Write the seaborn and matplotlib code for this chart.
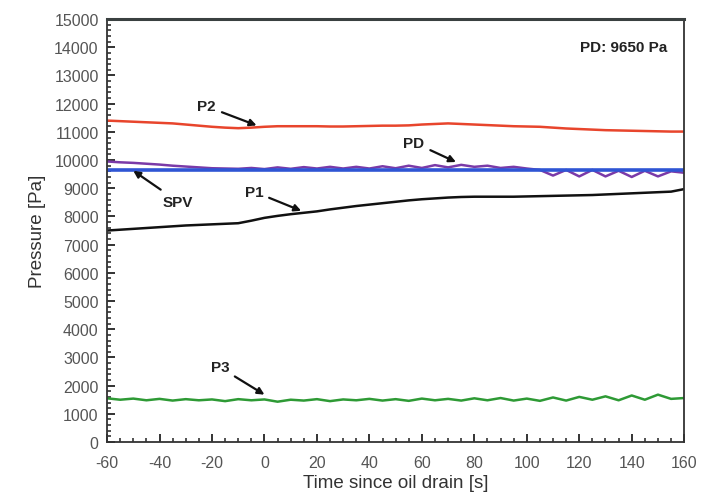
import numpy as np
import pandas as pd
import matplotlib
matplotlib.use("Agg")
import matplotlib.pyplot as plt
from matplotlib.ticker import MultipleLocator
import seaborn as sns

time_s = [-60, -55, -50, -45, -40, -35, -30, -25, -20, -15, -10, -5, 0, 5, 10, 15, 20, 25,
          30, 35, 40, 45, 50, 55, 60, 65, 70, 75, 80, 85, 90, 95, 100, 105, 110, 115, 120,
          125, 130, 135, 140, 145, 150, 155, 160]

p2 = [11400, 11380, 11360, 11340, 11320, 11300, 11260, 11220, 11180, 11150, 11130, 11150,
      11180, 11200, 11200, 11200, 11200, 11190, 11190, 11200, 11210, 11220, 11220, 11230,
      11260, 11280, 11300, 11280, 11260, 11240, 11220, 11200, 11190, 11180, 11150, 11120,
      11100, 11080, 11060, 11050, 11040, 11030, 11020, 11010, 11010]

pd_vals = [9950, 9920, 9900, 9870, 9840, 9800, 9770, 9740, 9710, 9700, 9690, 9720, 9680,
           9740, 9690, 9750, 9700, 9760, 9700, 9760, 9700, 9780, 9710, 9800, 9720, 9820,
           9740, 9830, 9760, 9800, 9720, 9760, 9700, 9650, 9450, 9650, 9420, 9650, 9420,
           9620, 9400, 9620, 9420, 9600, 9550]

p1 = [7500, 7530, 7560, 7590, 7620, 7650, 7680, 7700, 7720, 7740, 7760, 7850, 7950, 8020,
      8080, 8130, 8180, 8250, 8310, 8370, 8420, 8470, 8520, 8570, 8610, 8640, 8670, 8690,
      8700, 8700, 8700, 8700, 8710, 8720, 8730, 8740, 8750, 8760, 8780, 8800, 8820, 8840,
      8860, 8880, 8970]

p3 = [1550, 1500, 1540, 1480, 1530, 1470, 1520, 1480, 1510, 1450, 1520, 1480, 1510, 1430,
      1500, 1470, 1520, 1450, 1510, 1480, 1530, 1470, 1520, 1460, 1540, 1480, 1530, 1470,
      1550, 1480, 1560, 1470, 1540, 1460, 1580, 1470, 1600, 1500, 1620, 1480, 1650, 1500,
      1680, 1530, 1560]

spv_time = [-60, 160]
spv = [9650, 9650]

series_colors = {"P2": "#e8452c", "PD": "#7a3aa8", "SPV": "#2f55d4", "P1": "#111111", "P3": "#2e9a35"}

frames = []
for name, vals, tt in [("P2", p2, time_s), ("P1", p1, time_s), ("P3", p3, time_s),
                       ("PD", pd_vals, time_s), ("SPV", spv, spv_time)]:
    frames.append(pd.DataFrame({"t": tt, "p": vals, "series": name}))
df = pd.concat(frames, ignore_index=True)

sns.set_style("ticks")
plt.rcParams["font.family"] = ["Liberation Sans", "DejaVu Sans"]
plt.rcParams["axes.unicode_minus"] = False

fig = plt.figure(figsize=(7.09, 5.02), dpi=100)
ax = fig.add_axes([0.151, 0.1175, 0.814, 0.8425])

sns.lineplot(data=df, x="t", y="p", hue="series", palette=series_colors,
             hue_order=["P2", "P1", "P3", "PD", "SPV"], legend=False, ax=ax,
             linewidth=1.8, sort=False)
lines = ax.get_lines()
if len(lines) >= 5:
    lines[4].set_linewidth(2.6)

ax.set_xlim(-60, 160)
ax.set_ylim(0, 15000)
ax.xaxis.set_major_locator(MultipleLocator(20))
ax.xaxis.set_minor_locator(MultipleLocator(5))
ax.yaxis.set_major_locator(MultipleLocator(1000))
ax.yaxis.set_minor_locator(MultipleLocator(200))
ax.tick_params(which="major", direction="in", length=6, width=1.4, colors="#333333",
               labelcolor="#555555", labelsize=11.5, top=False, right=False)
ax.tick_params(axis="x", which="major", pad=9)
ax.tick_params(axis="y", which="major", pad=6)
ax.tick_params(which="minor", direction="in", length=3, width=1.2, colors="#333333",
               top=False, right=False)
for s in ["left", "bottom", "right"]:
    ax.spines[s].set_linewidth(1.3)
    ax.spines[s].set_color("#333333")
ax.spines["top"].set_linewidth(2.2)
ax.spines["top"].set_color("#3a4040")

ax.set_xlabel("Time since oil drain [s]", fontsize=13.5, color="#333333", labelpad=3)
ax.set_ylabel("Pressure [Pa]", fontsize=13.5, color="#333333", labelpad=6)

arrow = dict(arrowstyle="-|>", color="#111111", lw=1.6, mutation_scale=10, shrinkA=2, shrinkB=0)
ann_font = dict(fontsize=11, fontweight="bold", color="#222222", ha="center", va="center")
ax.annotate("P2", xy=(-3, 11230), xytext=(-22, 11900), arrowprops=arrow, **ann_font)
ax.annotate("SPV", xy=(-50, 9620), xytext=(-33, 8530), arrowprops=arrow, **ann_font)
ax.annotate("P1", xy=(14, 8200), xytext=(-4, 8880), arrowprops=arrow, **ann_font)
ax.annotate("PD", xy=(73, 9930), xytext=(57, 10620), arrowprops=arrow, **ann_font)
ax.annotate("P3", xy=(0, 1680), xytext=(-17, 2650), arrowprops=arrow, **ann_font)
ax.text(0.97, 0.935, "PD: 9650 Pa", transform=ax.transAxes, fontsize=11, fontweight="bold",
        color="#222222", ha="right", va="center")

fig.savefig("out.png", dpi=100)
